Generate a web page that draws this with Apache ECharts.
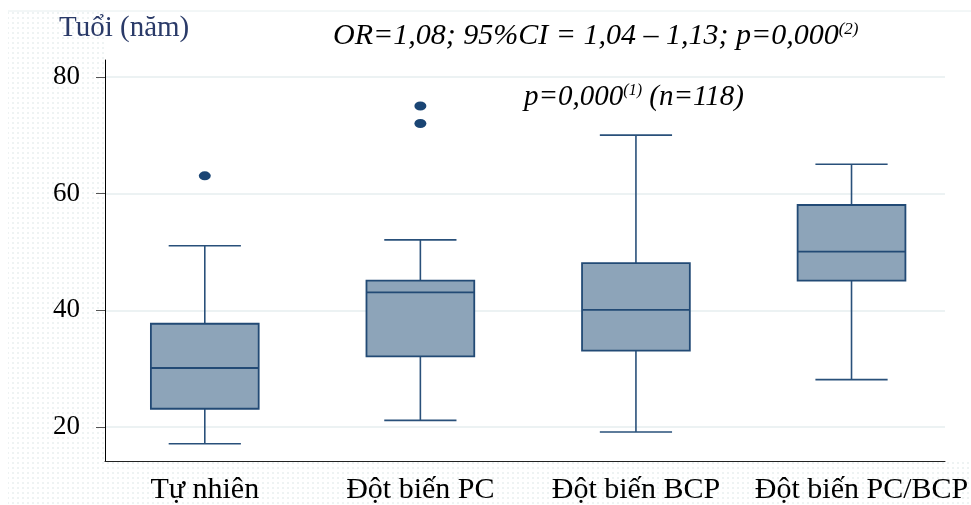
<!DOCTYPE html>
<html>
<head>
<meta charset="utf-8">
<script src="https://cdn.jsdelivr.net/npm/echarts@6/dist/echarts.min.js"></script>
<style>
html,body{margin:0;padding:0;background:#fff;}
#chart{width:971px;height:505px;}
</style>
</head>
<body>
<div id="chart"></div>
<script>
const categories = ['Tự nhiên', 'Đột biến PC', 'Đột biến BCP', 'Đột biến PC/BCP'];
const lowerWhisker = [17, 21, 19, 28];
const q1 = [23, 32, 33, 45];
const median = [30, 43, 40, 50];
const q3 = [37.6, 45, 48, 58];
const upperWhisker = [51, 52, 70, 65];
const outlierCategory = [0, 1, 1];
const outlierValue = [63, 72, 75];
const yTicks = [20, 40, 60, 80];
const yMin = 14.2;
const yMax = 82.9;

const FONT = 'Liberation Serif';
const boxData = categories.map((c, i) => [i, lowerWhisker[i], q1[i], median[i], q3[i], upperWhisker[i]]);
const outlierData = outlierValue.map((v, k) => [outlierCategory[k], v]);

// dotted background pattern
const pc = document.createElement('canvas');
pc.width = 5; pc.height = 5;
const pctx = pc.getContext('2d');
pctx.fillStyle = '#ffffff'; pctx.fillRect(0, 0, 5, 5);
pctx.fillStyle = '#eef3f3'; pctx.fillRect(2, 2, 2, 2);

const chart = echarts.init(document.getElementById('chart'), null, {renderer: 'canvas'});
const stroke = '#29507a';

chart.setOption({
  animation: false,
  backgroundColor: '#ffffff',
  grid: [
    {left: 97, right: 10, top: 60, bottom: 44},
    {left: 105, right: 26, top: 60, bottom: 44}
  ],
  xAxis: [
    {
      type: 'category', gridIndex: 0, data: categories,
      axisLine: {show: false}, axisTick: {show: false},
      axisLabel: {
        fontFamily: FONT, fontSize: 30, color: '#000', margin: 15, interval: 0,
        formatter: function (v, idx) { return idx === categories.length - 1 ? '{last|' + v + '}' : v; },
        rich: {last: {fontFamily: FONT, fontSize: 30, color: '#000', padding: [0, 0, 0, 20]}}
      },
      splitLine: {show: false}
    },
    {
      type: 'value', gridIndex: 1, min: 0, max: 1,
      axisLine: {show: true, lineStyle: {color: '#222', width: 1}},
      axisTick: {show: false}, axisLabel: {show: false}, splitLine: {show: false}
    }
  ],
  yAxis: [
    {type: 'value', gridIndex: 0, min: yMin, max: yMax, show: false},
    {
      type: 'value', gridIndex: 1, min: yMin, max: yMax,
      axisLine: {show: true, lineStyle: {color: '#000', width: 1}},
      axisTick: {show: true, length: 9, customValues: yTicks, lineStyle: {color: '#555', width: 1}},
      axisLabel: {customValues: yTicks, fontFamily: FONT, fontSize: 27, color: '#000', margin: 25},
      splitLine: {show: true, lineStyle: {color: '#e6eeef', width: 1.5}}
    }
  ],
  graphic: [
    {type: 'rect', z: -100, silent: true, shape: {x: 8, y: 11, width: 963, height: 494},
      style: {fill: {image: pc, repeat: 'repeat'}}},
    {type: 'rect', z: -99, silent: true, shape: {x: 105, y: 11, width: 866, height: 450},
      style: {fill: '#ffffff'}},
    {type: 'line', z: -98, silent: true, shape: {x1: 8, y1: 11, x2: 971, y2: 11},
      style: {stroke: '#e6eeef', lineWidth: 1}},
    {type: 'text', left: 59, top: 14, z: 10,
      style: {text: 'Tuổi (năm)', fontFamily: FONT, fontSize: 29, fill: '#2a3a68'}},
    {type: 'text', left: 333, top: 21, z: 10,
      style: {
        text: '{a|OR=1,08; 95%CI = 1,04 – 1,13; p=0,000}{s|(2)}',
        rich: {
          a: {fontFamily: FONT, fontSize: 30, fontStyle: 'italic', fill: '#000'},
          s: {fontFamily: FONT, fontSize: 17, fontStyle: 'italic', fill: '#000', verticalAlign: 'top'}
        }
      }},
    {type: 'text', left: 524, top: 83, z: 10,
      style: {
        text: '{a|p=0,000}{s|(1)}{a| (n=118)}',
        rich: {
          a: {fontFamily: FONT, fontSize: 29, fontStyle: 'italic', fill: '#000'},
          s: {fontFamily: FONT, fontSize: 16, fontStyle: 'italic', fill: '#000', verticalAlign: 'top'}
        }
      }}
  ],
  series: [
    {
      type: 'custom', xAxisIndex: 0, yAxisIndex: 0, data: boxData,
      encode: {x: 0, y: [1, 2, 3, 4, 5]},
      renderItem: function (params, api) {
        const i = api.value(0);
        const pLo = api.coord([i, api.value(1)]);
        const pQ1 = api.coord([i, api.value(2)]);
        const pMed = api.coord([i, api.value(3)]);
        const pQ3 = api.coord([i, api.value(4)]);
        const pHi = api.coord([i, api.value(5)]);
        const band = api.size([1, 0])[0];
        const bw = band * 0.5;
        const cw = band * 0.335;
        const x = pMed[0];
        const ls = {stroke: stroke, lineWidth: 1.6, fill: null};
        return {
          type: 'group',
          children: [
            {type: 'line', shape: {x1: x, y1: pQ3[1], x2: x, y2: pHi[1]}, style: ls},
            {type: 'line', shape: {x1: x, y1: pQ1[1], x2: x, y2: pLo[1]}, style: ls},
            {type: 'line', shape: {x1: x - cw / 2, y1: pHi[1], x2: x + cw / 2, y2: pHi[1]}, style: ls},
            {type: 'line', shape: {x1: x - cw / 2, y1: pLo[1], x2: x + cw / 2, y2: pLo[1]}, style: ls},
            {type: 'rect', shape: {x: x - bw / 2, y: pQ3[1], width: bw, height: pQ1[1] - pQ3[1]},
              style: {fill: '#8da4b9', stroke: '#224a75', lineWidth: 1.8}},
            {type: 'line', shape: {x1: x - bw / 2, y1: pMed[1], x2: x + bw / 2, y2: pMed[1]},
              style: {stroke: '#224a75', lineWidth: 1.8}}
          ]
        };
      }
    },
    {
      type: 'scatter', xAxisIndex: 0, yAxisIndex: 0, data: outlierData,
      symbol: 'circle', symbolSize: [12, 9],
      itemStyle: {color: '#1a4574', opacity: 1}
    }
  ]
});
</script>
</body>
</html>
